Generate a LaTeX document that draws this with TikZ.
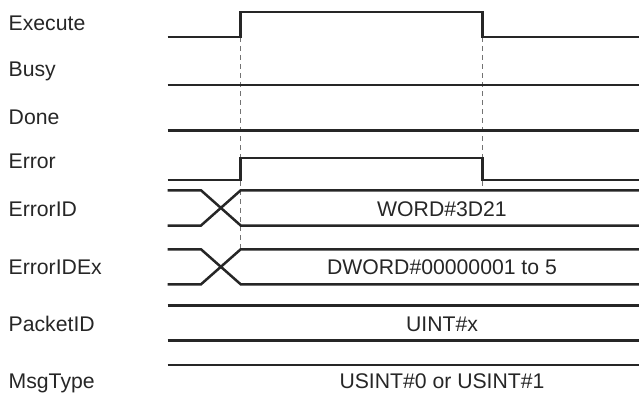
\documentclass[tikz,border=0pt]{standalone}
\usepackage{fontspec}
\setmainfont{Liberation Sans}
\usetikzlibrary{positioning}

\begin{document}
\begin{tikzpicture}[x=1pt, y=-1pt,
    every node/.style={inner sep=0pt, text=black!85, font=\fontsize{21.2}{25}\selectfont},
    signame/.style={anchor=base west},
    busval/.style={anchor=base},
    wave/.style={line width=2.5pt, black!85},
    guide/.style={black!55, line width=0.9pt, dash pattern=on 5pt off 4pt}
]
\useasboundingbox (0,0) rectangle (639,396);

% signal names
\node[signame] (execute) at (8.5,30.7) {Execute};
\node[signame] (busy) at (8.5,77) {Busy};
\node[signame] (done) at (8.5,124) {Done};
\node[signame] (error) at (8.5,168) {Error};
\node[signame] (errorid) at (8.5,216.5) {ErrorID};
\node[signame] (errorex) at (8.5,274.3) {ErrorIDEx};
\node[signame] (packetid) at (8.5,331.7) {PacketID};
\node[signame] (msgtype) at (8.5,388) {MsgType};

% dashed timing guides
\draw[guide] (240.7,37) -- (240.7,249.3);
\draw[guide] (482.7,37) -- (482.7,190.3);

% bit signals
\draw[wave] (167.7,37) -- (240.7,37) -- (240.7,12) -- (482.7,12) -- (482.7,37) -- (639,37);
\draw[wave] (167.7,85) -- (639,85);
\draw[wave] (167.7,130.3) -- (639,130.3);
\draw[wave] (167.7,180) -- (240.7,180) -- (240.7,158) -- (482.7,158) -- (482.7,180) -- (639,180);

% ErrorID
\draw[wave] (167.7,190.3) -- (201,190.3) -- (240.7,225.5) -- (639,225.5);
\draw[wave] (167.7,225.5) -- (201,225.5) -- (240.7,190.3) -- (639,190.3);
\node[busval] (idval) at (442,216) {WORD\#3D21};

% ErrorIDEx
\draw[wave] (167.7,249.3) -- (201,249.3) -- (240.7,284.3) -- (639,284.3);
\draw[wave] (167.7,284.3) -- (201,284.3) -- (240.7,249.3) -- (639,249.3);
\node[busval] (exval) at (442,274.3) {DWORD\#00000001 to 5};

% PacketID
\draw[wave] (167.7,305.3) -- (639,305.3);
\draw[wave] (167.7,340.7) -- (639,340.7);
\node[busval] (pidval) at (442,331.7) {UINT\#x};

% MsgType
\draw[wave] (167.7,365) -- (639,365);
\node[busval] (msgval) at (442,388) {USINT\#0 or USINT\#1};
\end{tikzpicture}
\end{document}
